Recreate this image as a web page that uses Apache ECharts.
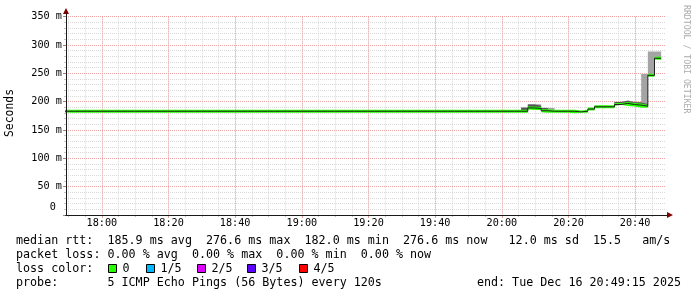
<!DOCTYPE html>
<html><head><meta charset="utf-8">
<script src="https://cdn.jsdelivr.net/npm/echarts@6/dist/echarts.min.js"></script>
<style>html,body{margin:0;padding:0;background:#fff}#c{width:697px;height:297px}</style>
</head><body><div id="c"></div>
<script>
// ---- time base (minutes relative to 18:00) ----
const viewStartMinute = -10.75;   // 17:49:15
const viewEndMinute = 169.25;     // 20:49:15
const firstStepMinute = -12.2;    // first 120 s RRD step shown
const stepMinutes = 2;

// ---- data: one value per 120 s step (ms) ----
const rttMedian = [
183.1,183.1,183.1,183.1,183.1,183.1,183.1,183.1,183.1,183.1,
183.1,183.1,183.1,183.1,183.1,183.1,183.1,183.1,183.1,183.1,
183.1,183.1,183.1,183.1,183.1,183.1,183.1,183.1,183.1,183.1,
183.1,183.1,183.1,183.1,183.1,183.1,183.1,183.1,183.1,183.1,
183.1,183.1,183.1,183.1,183.1,183.1,183.1,183.1,183.1,183.1,
183.1,183.1,183.1,183.1,183.1,183.1,183.1,183.1,183.1,183.1,
183.1,183.1,183.1,183.1,183.1,183.1,183.1,183.1,183.1,183.1,
189.0,188.0,184.0,183.1,183.1,183.1,183.1,182.0,183.1,187.0,
191.0,191.0,191.0,195.0,197.0,195.0,194.0,192.0,246.5,276.6];
const rttMin = [
182.6,182.6,182.6,182.6,182.6,182.6,182.6,182.6,182.6,182.6,
182.6,182.6,182.6,182.6,182.6,182.6,182.6,182.6,182.6,182.6,
182.6,182.6,182.6,182.6,182.6,182.6,182.6,182.6,182.6,182.6,
182.6,182.6,182.6,182.6,182.6,182.6,182.6,182.6,182.6,182.6,
182.6,182.6,182.6,182.6,182.6,182.6,182.6,182.6,182.6,182.6,
182.6,182.6,182.6,182.6,182.6,182.6,182.6,182.6,182.6,182.6,
182.6,182.6,182.6,182.6,182.6,182.6,182.6,182.6,182.6,182.7,
188.5,187.5,183.5,182.7,182.6,182.6,182.6,181.6,182.6,186.5,
190.6,190.6,190.6,194.6,196.6,194.6,193.6,191.5,246.0,276.0];
const rttP4 = [
183.5,183.5,183.5,183.5,183.5,183.5,183.5,183.5,183.5,183.5,
183.5,183.5,183.5,183.5,183.5,183.5,183.5,183.5,183.5,183.5,
183.5,183.5,183.5,183.5,183.5,183.5,183.5,183.5,183.5,183.5,
183.5,183.5,183.5,183.5,183.5,183.5,183.5,183.5,183.5,183.5,
183.5,183.5,183.5,183.5,183.5,183.5,183.5,183.5,183.5,183.5,
183.5,183.5,183.5,183.5,183.5,183.5,183.5,183.5,183.5,183.5,
183.5,183.5,183.5,183.5,183.5,183.5,183.5,183.5,183.5,189.0,
195.0,193.0,189.0,183.5,183.5,183.5,183.5,182.4,183.5,187.4,
192.0,191.4,191.4,199.5,201.5,199.0,198.5,196.0,249.0,278.0];
const rttMax = [
184.0,184.0,184.0,184.0,184.0,184.0,184.0,184.0,184.0,184.0,
184.0,184.0,184.0,184.0,184.0,184.0,184.0,184.0,184.0,184.0,
184.0,184.0,184.0,184.0,184.0,184.0,184.0,184.0,184.0,184.0,
184.0,184.0,184.0,184.0,184.0,184.0,184.0,184.0,184.0,184.0,
184.0,184.0,184.0,184.0,184.0,184.0,184.0,184.0,184.0,184.0,
184.0,184.0,184.0,184.0,184.0,184.0,184.0,184.0,184.0,184.0,
184.0,184.0,184.0,184.0,184.0,184.0,184.0,184.0,184.0,190.4,
195.3,195.5,189.5,189.0,184.0,184.0,184.0,182.8,184.0,188.0,
193.0,192.5,192.5,200.0,202.0,200.0,199.5,249.0,288.7,288.7];

// ---- ticks / labels ----
const timeTickMinutes = [0, 20, 40, 60, 80, 100, 120, 140, 160];
const timeTickLabels = ['18:00','18:20','18:40','19:00','19:20','19:40','20:00','20:20','20:40'];
const yTickValues = [0, 50, 100, 150, 200, 250, 300, 350];
const yTickLabels = ['0 ', '50 m', '100 m', '150 m', '200 m', '250 m', '300 m', '350 m'];
const lossLabels = ['0', '1/5', '2/5', '3/5', '4/5'];
const lossColors = ['#26ff00', '#00b8ff', '#dd00ff', '#5e00ff', '#ff0000'];
const legendLines = [
  'median rtt:  185.9 ms avg  276.6 ms max  182.0 ms min  276.6 ms now   12.0 ms sd  15.5   am/s',
  'packet loss: 0.00 % avg  0.00 % max  0.00 % min  0.00 % now',
  'loss color:',
  'probe:       5 ICMP Echo Pings (56 Bytes) every 120s'
];
const endText = 'end: Tue Dec 16 20:49:15 2025';
const yAxisTitle = 'Seconds';
const watermark = 'RRDTOOL / TOBI OETIKER';

// ---- layout ----
const MONO = '"DejaVu Sans Mono", monospace';
const plotLeft = 66, plotWidth = 600, plotTop = 16.7, plotBottom = 215;
const yMax = 350;
const T0 = Date.UTC(2025, 11, 16, 18, 0, 0);
const MIN_MS = 60000;
const pxPerMin = plotWidth / (viewEndMinute - viewStartMinute);
function gridFor(minM, maxM) {
  return { left: plotLeft + (minM - viewStartMinute) * pxPerMin, width: (maxM - minM) * pxPerMin,
           top: plotTop, height: plotBottom - plotTop, outerBoundsMode: 'none', containLabel: false };
}
function stepData(vals) {
  const d = vals.map((v, i) => [T0 + (firstStepMinute + stepMinutes * i) * MIN_MS, v]);
  d.push([T0 + (firstStepMinute + stepMinutes * vals.length) * MIN_MS, vals[vals.length - 1]]);
  return d;
}
const hidden = { show: false };
function hiddenAxis(grid, min, max, type) {
  return { type: type || 'value', gridIndex: grid, min, max, axisLine: hidden, axisTick: hidden, axisLabel: hidden, splitLine: hidden };
}
const halfBand = 2.6;
function line(extra) {
  return Object.assign({ type: 'line', xAxisIndex: 0, yAxisIndex: 0, step: 'end', symbol: 'none', showSymbol: false,
    silent: true, animation: false, lineStyle: { opacity: 0 } }, extra);
}
const minorGrid = { show: true, lineStyle: { color: '#d9d9d9', width: 1, type: [1, 1] } };
const majorGrid = { show: true, lineStyle: { color: '#eea4a4', width: 1, type: [1, 1] } };

const option = {
  backgroundColor: '#ffffff',
  animation: false,
  grid: [
    gridFor(viewStartMinute, viewEndMinute),           // 0 data
    gridFor(-10, 165),                                   // 1 minor x grid
    gridFor(0, 160),                                     // 2 major x grid + labels
    { left: plotLeft, top: 11, width: 604, height: plotBottom - 11, outerBoundsMode: 'none' }, // 3 arrows
    { left: plotLeft, top: 14, width: 601, height: plotBottom - 14, outerBoundsMode: 'none' }  // 4 axis lines
  ],
  xAxis: [
    hiddenAxis(0, T0 + viewStartMinute * MIN_MS, T0 + viewEndMinute * MIN_MS, 'time'),
    { type: 'value', gridIndex: 1, min: -10, max: 165, interval: 5, axisLine: hidden, axisLabel: hidden,
      axisTick: { show: true, length: 2, lineStyle: { color: '#c4c4c4' } }, splitLine: minorGrid },
    { type: 'value', gridIndex: 2, min: 0, max: 160, interval: 20, axisLine: hidden,
      axisTick: { show: true, length: 3, lineStyle: { color: '#e39a9a' } },
      axisLabel: { show: true, margin: 3, color: '#000', fontFamily: MONO, fontSize: 10.2,
        formatter: v => timeTickLabels[timeTickMinutes.indexOf(v)] || '' },
      splitLine: majorGrid, z: 1 },
    { type: 'value', gridIndex: 3, min: 0, max: 1, axisTick: hidden, axisLabel: hidden, splitLine: hidden, z: 5,
      axisLine: { show: true, onZero: false, symbol: ['none', 'triangle'], symbolSize: [6, 6], lineStyle: { color: '#7f0000', width: 1 } } },
    { type: 'value', gridIndex: 4, min: 0, max: 1, axisTick: hidden, axisLabel: hidden, splitLine: hidden, z: 6,
      axisLine: { show: true, onZero: false, lineStyle: { color: '#1a1a1a', width: 1 } } }
  ],
  yAxis: [
    { type: 'value', gridIndex: 0, min: 0, max: yMax, interval: 50, position: 'left', axisLine: hidden, z: 1,
      axisTick: { show: true, length: 3, lineStyle: { color: '#8a8a8a' } },
      axisLabel: { show: true, margin: 4, color: '#000', fontFamily: MONO, fontSize: 10.2,
        formatter: v => { const s = yTickLabels[yTickValues.indexOf(v)]; return v === 0 ? '{z|' + s + '}' : s; },
        rich: { z: { color: '#000', fontFamily: MONO, fontSize: 10.2, padding: [0, 0, 16, 0] } } },
      splitLine: majorGrid },
    { type: 'value', gridIndex: 0, min: 0, max: yMax, interval: 10, position: 'left', axisLine: hidden, axisLabel: hidden,
      axisTick: { show: true, length: 2, lineStyle: { color: '#c4c4c4' } }, splitLine: minorGrid },
    hiddenAxis(1, 0, yMax),
    hiddenAxis(2, 0, yMax),
    { type: 'value', gridIndex: 3, min: 0, max: 1, axisTick: hidden, axisLabel: hidden, splitLine: hidden, z: 5,
      axisLine: { show: true, onZero: false, symbol: ['none', 'triangle'], symbolSize: [6, 6], lineStyle: { color: '#7f0000', width: 1 } } },
    { type: 'value', gridIndex: 4, min: 0, max: 1, axisTick: hidden, axisLabel: hidden, splitLine: hidden, z: 6,
      axisLine: { show: true, onZero: false, lineStyle: { color: '#1a1a1a', width: 1 } } }
  ],
  series: [
    line({ name: 'outerBase', stack: 'outer', data: stepData(rttMin) }),
    line({ name: 'outer', stack: 'outer', data: stepData(rttMax.map((v, i) => v - rttMin[i])),
      areaStyle: { color: '#a4a4a4', opacity: 1 } }),
    line({ name: 'innerBase', stack: 'inner', data: stepData(rttMin) }),
    line({ name: 'inner', stack: 'inner', data: stepData(rttP4.map((v, i) => v - rttMin[i])),
      areaStyle: { color: '#555555', opacity: 1 } }),
    line({ name: 'median', data: stepData(rttMedian), lineStyle: { color: '#202020', width: 1, opacity: 1 } }),
    line({ name: 'medBase', stack: 'med', data: stepData(rttMedian.map(v => v - halfBand)) }),
    line({ name: 'medBand', stack: 'med', data: stepData(rttMedian.map(() => 2 * halfBand)),
      areaStyle: { color: lossColors[0], opacity: 1 } })
  ],
  graphic: []
};

const g = option.graphic;
const legendFont = '11.7px ' + MONO;
const rowY = [241, 255, 269, 283];
legendLines.forEach((t, i) => g.push({ type: 'text', x: 16, y: rowY[i], silent: true,
  style: { text: t, font: legendFont, fill: '#000', align: 'left', verticalAlign: 'middle' } }));
g.push({ type: 'text', x: 681, y: rowY[3], silent: true,
  style: { text: endText, font: legendFont, fill: '#000', align: 'right', verticalAlign: 'middle' } });
const boxX = [108.5, 146.5, 197.5, 247.5, 299.5];
lossLabels.forEach((lab, i) => {
  g.push({ type: 'rect', silent: true, shape: { x: boxX[i], y: 264.5, width: 8, height: 8 },
    style: { fill: lossColors[i], stroke: '#000', lineWidth: 1 } });
  g.push({ type: 'text', x: boxX[i] + 14, y: rowY[2], silent: true,
    style: { text: lab, font: legendFont, fill: '#000', align: 'left', verticalAlign: 'middle' } });
});
g.push({ type: 'text', x: 10, y: 113, rotation: Math.PI / 2, silent: true,
  style: { text: yAxisTitle, font: '11.4px ' + MONO, fill: '#000', align: 'center', verticalAlign: 'middle' } });
g.push({ type: 'text', x: 686, y: 5, rotation: -Math.PI / 2, silent: true,
  style: { text: watermark, font: '8.2px ' + MONO, fill: '#ababab', align: 'left', verticalAlign: 'middle' } });

const chart = echarts.init(document.getElementById('c'), null, { renderer: 'canvas', width: 697, height: 297 });
chart.setOption(option);
</script>
</body></html>
